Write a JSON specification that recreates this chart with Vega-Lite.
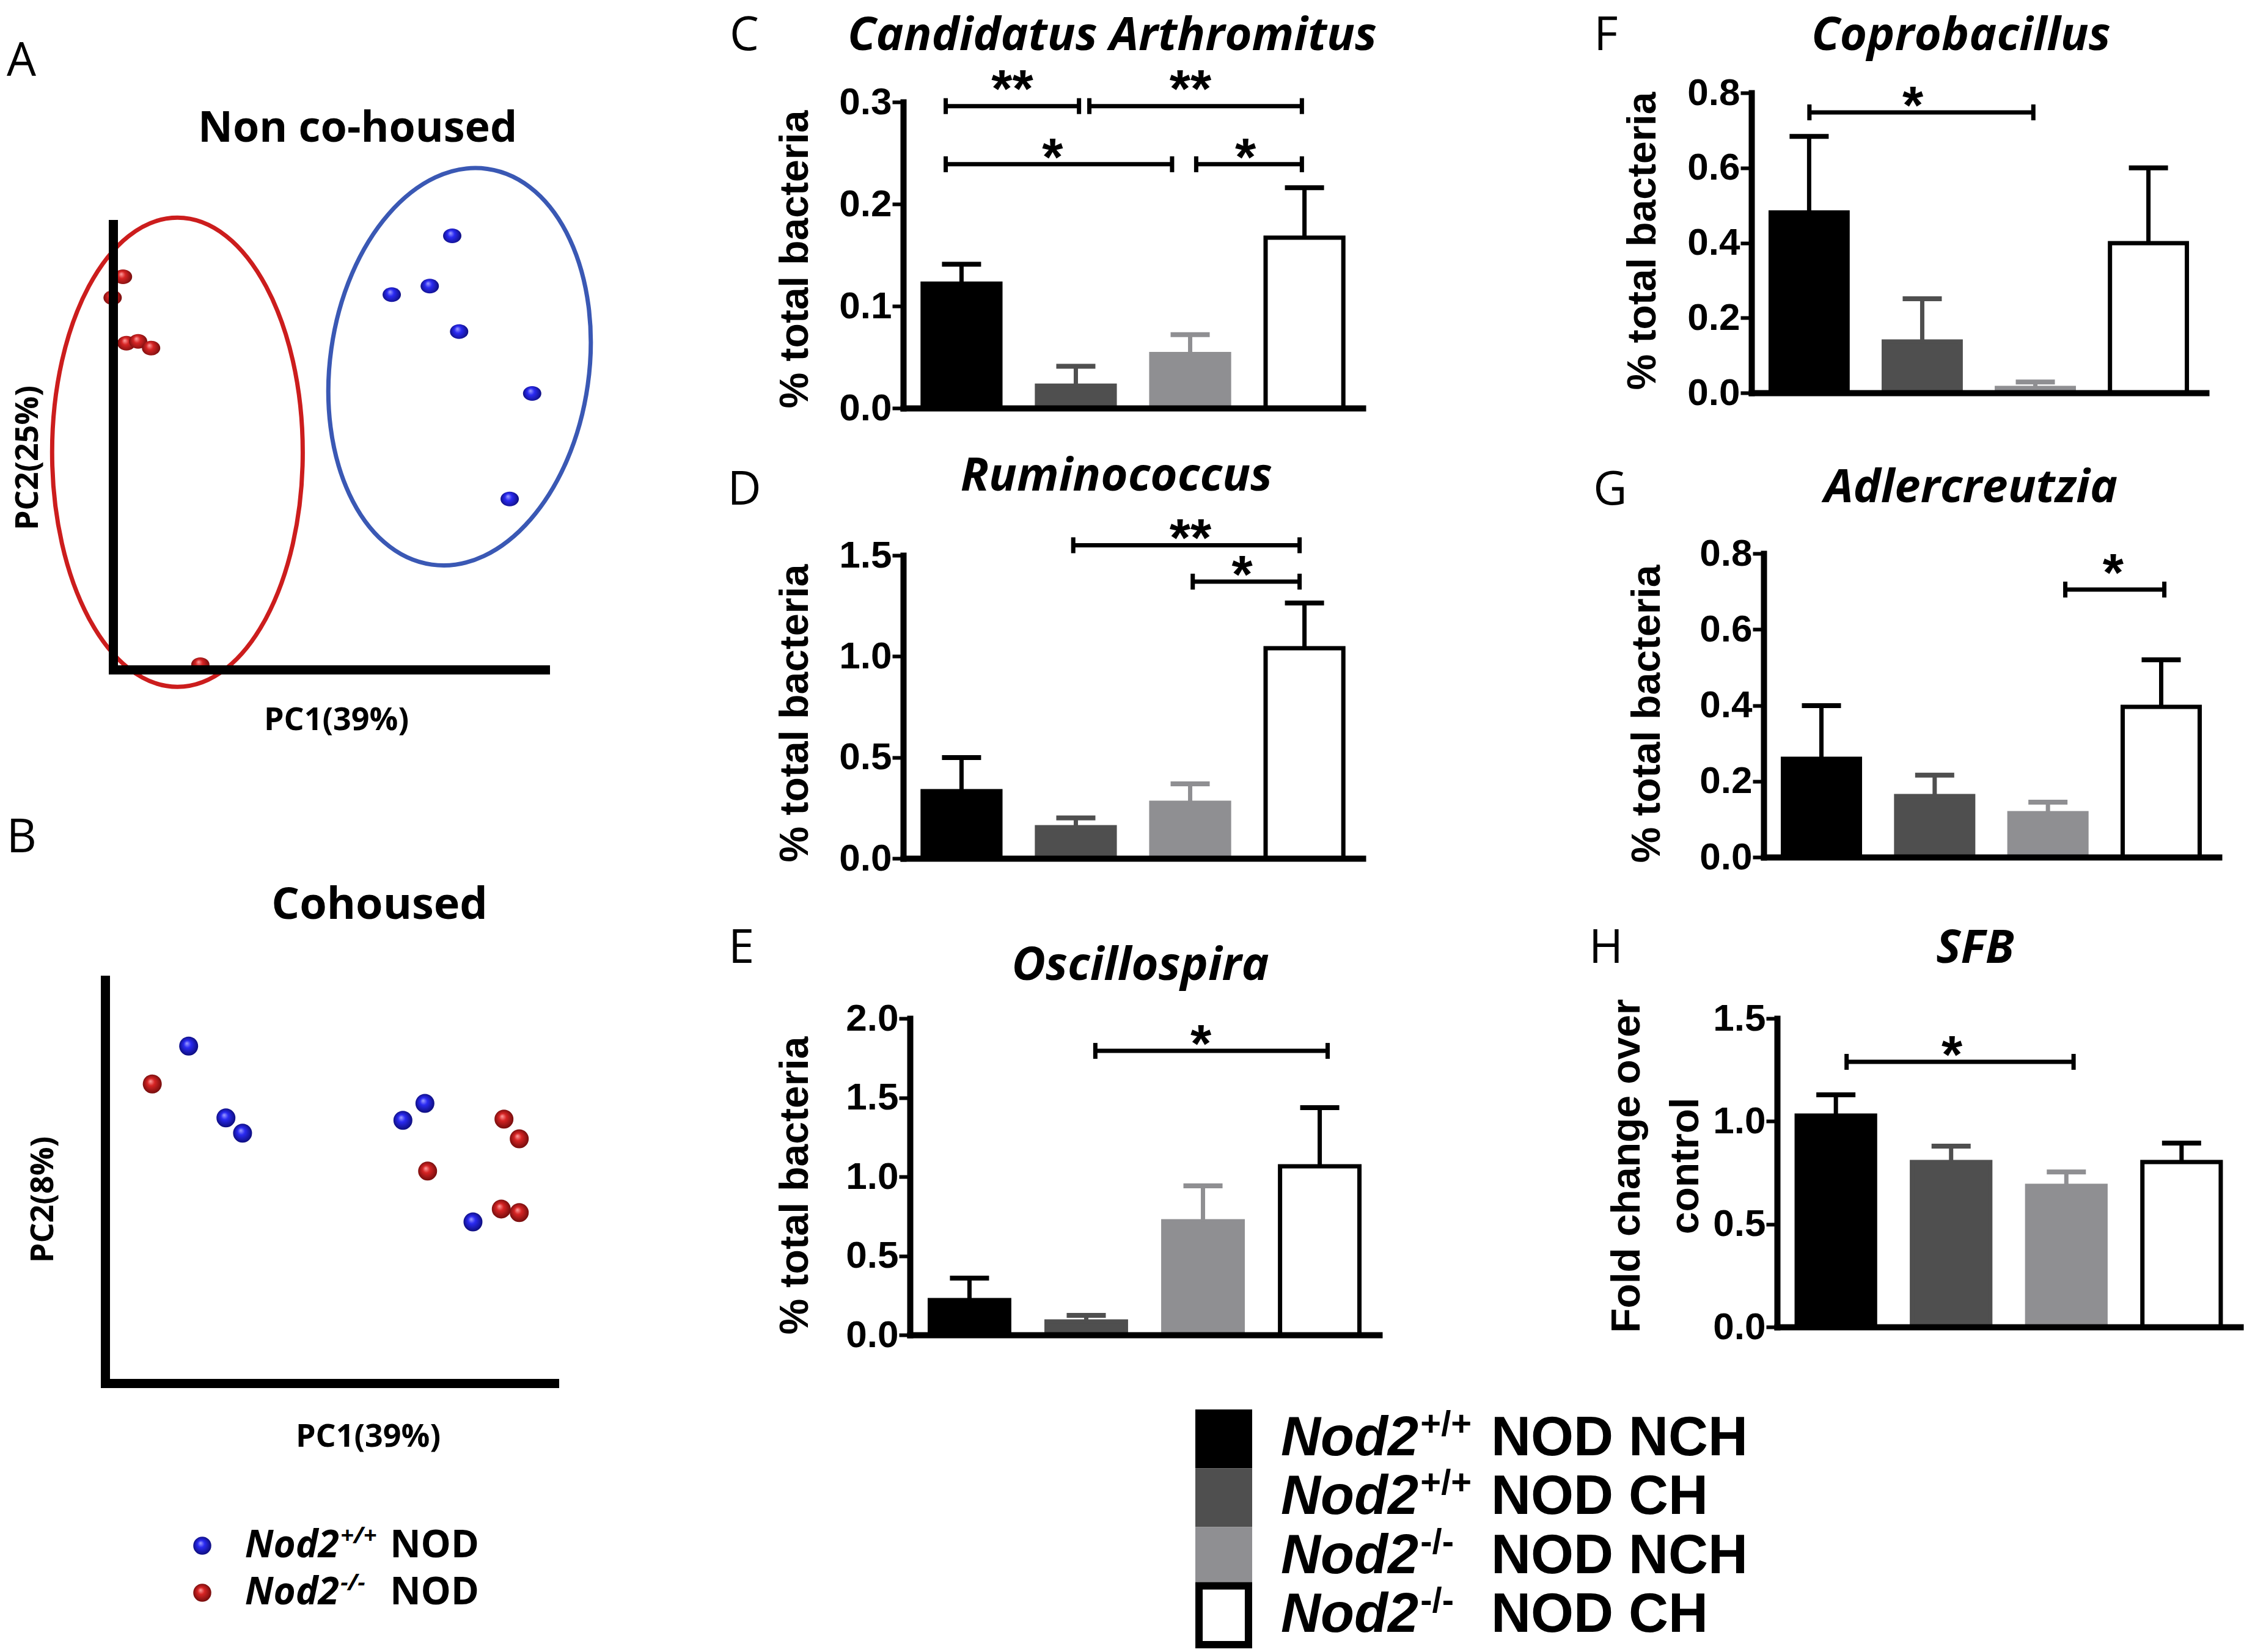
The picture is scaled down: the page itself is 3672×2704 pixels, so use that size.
{
"$schema":"https://vega.github.io/schema/vega-lite/v6.json",
"width":3672,"height":2704,
"autosize":{"type":"none"},
"padding":0,
"background":"#ffffff",
"config":{"view":{"stroke":null},"axis":{"grid":false}},
"datasets":{
"bars":[
{"panel":"C","group":"Nod2+/+ NOD NCH","mean":0.122,"upper":0.141},
{"panel":"C","group":"Nod2+/+ NOD CH","mean":0.022,"upper":0.041},
{"panel":"C","group":"Nod2-/- NOD NCH","mean":0.053,"upper":0.072},
{"panel":"C","group":"Nod2-/- NOD CH","mean":0.167,"upper":0.216},
{"panel":"D","group":"Nod2+/+ NOD NCH","mean":0.333,"upper":0.499},
{"panel":"D","group":"Nod2+/+ NOD CH","mean":0.154,"upper":0.200},
{"panel":"D","group":"Nod2-/- NOD NCH","mean":0.275,"upper":0.369},
{"panel":"D","group":"Nod2-/- NOD CH","mean":1.040,"upper":1.264},
{"panel":"E","group":"Nod2+/+ NOD NCH","mean":0.220,"upper":0.359},
{"panel":"E","group":"Nod2+/+ NOD CH","mean":0.085,"upper":0.124},
{"panel":"E","group":"Nod2-/- NOD NCH","mean":0.718,"upper":0.942},
{"panel":"E","group":"Nod2-/- NOD CH","mean":1.066,"upper":1.436},
{"panel":"F","group":"Nod2+/+ NOD NCH","mean":0.481,"upper":0.684},
{"panel":"F","group":"Nod2+/+ NOD CH","mean":0.137,"upper":0.251},
{"panel":"F","group":"Nod2-/- NOD NCH","mean":0.013,"upper":0.029},
{"panel":"F","group":"Nod2-/- NOD CH","mean":0.399,"upper":0.600},
{"panel":"G","group":"Nod2+/+ NOD NCH","mean":0.259,"upper":0.399},
{"panel":"G","group":"Nod2+/+ NOD CH","mean":0.161,"upper":0.216},
{"panel":"G","group":"Nod2-/- NOD NCH","mean":0.116,"upper":0.145},
{"panel":"G","group":"Nod2-/- NOD CH","mean":0.396,"upper":0.520},
{"panel":"H","group":"Nod2+/+ NOD NCH","mean":1.028,"upper":1.129},
{"panel":"H","group":"Nod2+/+ NOD CH","mean":0.802,"upper":0.879},
{"panel":"H","group":"Nod2-/- NOD NCH","mean":0.686,"upper":0.754},
{"panel":"H","group":"Nod2-/- NOD CH","mean":0.802,"upper":0.894}
],
"sig":[
{"panel":"C","from":0.37,"to":1.53,"y":0.296,"label":"**","sx":0.95,"sy":0.306},
{"panel":"C","from":1.62,"to":3.47,"y":0.296,"label":"**","sx":2.5,"sy":0.306},
{"panel":"C","from":0.37,"to":2.34,"y":0.239,"label":"*","sx":1.3,"sy":0.239},
{"panel":"C","from":2.55,"to":3.47,"y":0.239,"label":"*","sx":2.98,"sy":0.239},
{"panel":"D","from":1.48,"to":3.45,"y":1.55,"label":"**","sx":2.5,"sy":1.55},
{"panel":"D","from":2.52,"to":3.45,"y":1.37,"label":"*","sx":2.95,"sy":1.37},
{"panel":"E","from":1.58,"to":3.56,"y":1.795,"label":"*","sx":2.48,"sy":1.795},
{"panel":"F","from":0.51,"to":2.48,"y":0.748,"label":"*","sx":1.42,"sy":0.748},
{"panel":"G","from":2.65,"to":3.52,"y":0.705,"label":"*","sx":3.07,"sy":0.731},
{"panel":"H","from":0.6,"to":2.56,"y":1.289,"label":"*","sx":1.51,"sy":1.289}
],
"panels":[
{"panel":"A","letter":"A","title":"Non co-housed"},
{"panel":"B","letter":"B","title":"Cohoused"},
{"panel":"C","letter":"C","title":"Candidatus Arthromitus"},
{"panel":"D","letter":"D","title":"Ruminococcus"},
{"panel":"E","letter":"E","title":"Oscillospira"},
{"panel":"F","letter":"F","title":"Coprobacillus"},
{"panel":"G","letter":"G","title":"Adlercreutzia"},
{"panel":"H","letter":"H","title":"SFB"}
],
"pca":[
{"panel":"A","genotype":"Nod2-/- NOD","pc1":0.23,"pc2":8.82},
{"panel":"A","genotype":"Nod2-/- NOD","pc1":-0.01,"pc2":8.35},
{"panel":"A","genotype":"Nod2-/- NOD","pc1":0.31,"pc2":7.33},
{"panel":"A","genotype":"Nod2-/- NOD","pc1":0.58,"pc2":7.37},
{"panel":"A","genotype":"Nod2-/- NOD","pc1":0.88,"pc2":7.22},
{"panel":"A","genotype":"Nod2-/- NOD","pc1":2.02,"pc2":0.11},
{"panel":"A","genotype":"Nod2+/+ NOD","pc1":7.85,"pc2":9.74},
{"panel":"A","genotype":"Nod2+/+ NOD","pc1":6.45,"pc2":8.42},
{"panel":"A","genotype":"Nod2+/+ NOD","pc1":7.33,"pc2":8.61},
{"panel":"A","genotype":"Nod2+/+ NOD","pc1":8.01,"pc2":7.59},
{"panel":"A","genotype":"Nod2+/+ NOD","pc1":9.70,"pc2":6.20},
{"panel":"A","genotype":"Nod2+/+ NOD","pc1":9.18,"pc2":3.83},
{"panel":"B","genotype":"Nod2+/+ NOD","pc1":1.86,"pc2":8.36},
{"panel":"B","genotype":"Nod2+/+ NOD","pc1":2.69,"pc2":6.58},
{"panel":"B","genotype":"Nod2+/+ NOD","pc1":3.06,"pc2":6.20},
{"panel":"B","genotype":"Nod2+/+ NOD","pc1":6.63,"pc2":6.52},
{"panel":"B","genotype":"Nod2+/+ NOD","pc1":7.12,"pc2":6.94},
{"panel":"B","genotype":"Nod2+/+ NOD","pc1":8.19,"pc2":4.00},
{"panel":"B","genotype":"Nod2-/- NOD","pc1":1.05,"pc2":7.42},
{"panel":"B","genotype":"Nod2-/- NOD","pc1":7.18,"pc2":5.26},
{"panel":"B","genotype":"Nod2-/- NOD","pc1":8.88,"pc2":6.55},
{"panel":"B","genotype":"Nod2-/- NOD","pc1":9.22,"pc2":6.06},
{"panel":"B","genotype":"Nod2-/- NOD","pc1":8.82,"pc2":4.32},
{"panel":"B","genotype":"Nod2-/- NOD","pc1":9.22,"pc2":4.23}
],
"clusters":[
{"genotype":"Nod2-/- NOD","pc1":1.49,"pc2":4.88},
{"genotype":"Nod2+/+ NOD","pc1":8.02,"pc2":6.80}
],
"legend":[
{"group":"Nod2+/+ NOD NCH","gene":"Nod2","sup":"+/+","rest":"NOD NCH"},
{"group":"Nod2+/+ NOD CH","gene":"Nod2","sup":"+/+","rest":"NOD CH"},
{"group":"Nod2-/- NOD NCH","gene":"Nod2","sup":"-/-","rest":"NOD NCH"},
{"group":"Nod2-/- NOD CH","gene":"Nod2","sup":"-/-","rest":"NOD CH"}
],
"pcaLegend":[
{"genotype":"Nod2+/+ NOD","gene":"Nod2","sup":"+/+","rest":"NOD"},
{"genotype":"Nod2-/- NOD","gene":"Nod2","sup":"-/-","rest":"NOD"}
]
},
"layer":[
{
"layer":[
{"data":{"name":"clusters"},"transform":[{"filter":"datum.genotype === 'Nod2-/- NOD'"}],
"mark":{"type":"point","shape":"M0,-1C0.295,-1,0.534,-0.5523,0.534,0C0.534,0.5523,0.295,1,0,1C-0.295,1,-0.534,0.5523,-0.534,0C-0.534,-0.5523,-0.295,-1,0,-1Z","size":589824,"filled":false,"stroke":"#cc1d1d","strokeWidth":7,"opacity":1},
"encoding":{"x":{"field":"pc1","type":"quantitative","scale":{"domain":[0,10],"range":[185,892],"nice":false,"zero":false},"axis":{"orient":"bottom","offset":-1608,"ticks":false,"labels":false,"domainWidth":15,"domainColor":"#000000","domainCap":"square","title":"PC1(39%)","titleFont":"Open Sans","titleFontWeight":"bold","titleFontSize":52,"titleColor":"#000000","titleX":550,"titleY":82,"titleAlign":"center","titleBaseline":"middle","grid":false,"zindex":1,"minExtent":0}},
"y":{"field":"pc2","type":"quantitative","scale":{"domain":[0,10],"range":[1096,367],"nice":false,"zero":false},"axis":{"orient":"left","offset":-185,"ticks":false,"labels":false,"domainWidth":15,"domainColor":"#000000","domainCap":"square","title":"PC2(25%)","titleFont":"Open Sans","titleFontWeight":"bold","titleFontSize":52,"titleColor":"#000000","titleX":-140,"titleY":749,"titleAngle":-90,"titleAlign":"center","titleBaseline":"middle","grid":false,"zindex":1,"minExtent":0}}}},
{"data":{"name":"clusters"},"transform":[{"filter":"datum.genotype === 'Nod2+/+ NOD'"}],
"mark":{"type":"point","shape":"M0,-1C0.358,-1,0.648,-0.5523,0.648,0C0.648,0.5523,0.358,1,0,1C-0.358,1,-0.648,0.5523,-0.648,0C-0.648,-0.5523,-0.358,-1,0,-1Z","size":427716,"angle":8,"filled":false,"stroke":"#3a58b4","strokeWidth":7,"opacity":1},
"encoding":{"x":{"field":"pc1","type":"quantitative","scale":{"domain":[0,10],"range":[185,892],"nice":false,"zero":false}},
"y":{"field":"pc2","type":"quantitative","scale":{"domain":[0,10],"range":[1096,367],"nice":false,"zero":false}}}},
{"data":{"name":"pca"},"transform":[{"filter":"datum.panel === 'A' && datum.genotype === 'Nod2-/- NOD'"}],
"mark":{"type":"point","shape":"M0,-0.8C0.5523,-0.8,1,-0.4418,1,0C1,0.4418,0.5523,0.8,0,0.8C-0.5523,0.8,-1,0.4418,-1,0C-1,-0.4418,-0.5523,-0.8,0,-0.8Z","size":900,"filled":true,"opacity":1,"strokeWidth":0,"fill":{"gradient":"radial","x1":0.4,"y1":0.35,"r1":0,"x2":0.5,"y2":0.5,"r2":0.55,"stops":[{"offset":0,"color":"#ffa0a0"},{"offset":0.35,"color":"#d62424"},{"offset":1,"color":"#6a0a0a"}]}},
"encoding":{"x":{"field":"pc1","type":"quantitative","scale":{"domain":[0,10],"range":[185,892],"nice":false,"zero":false}},
"y":{"field":"pc2","type":"quantitative","scale":{"domain":[0,10],"range":[1096,367],"nice":false,"zero":false}}}},
{"data":{"name":"pca"},"transform":[{"filter":"datum.panel === 'A' && datum.genotype === 'Nod2+/+ NOD'"}],
"mark":{"type":"point","shape":"M0,-0.8C0.5523,-0.8,1,-0.4418,1,0C1,0.4418,0.5523,0.8,0,0.8C-0.5523,0.8,-1,0.4418,-1,0C-1,-0.4418,-0.5523,-0.8,0,-0.8Z","size":900,"filled":true,"opacity":1,"strokeWidth":0,"fill":{"gradient":"radial","x1":0.4,"y1":0.35,"r1":0,"x2":0.5,"y2":0.5,"r2":0.55,"stops":[{"offset":0,"color":"#a0a0ff"},{"offset":0.35,"color":"#2a2af2"},{"offset":1,"color":"#0a0a70"}]}},
"encoding":{"x":{"field":"pc1","type":"quantitative","scale":{"domain":[0,10],"range":[185,892],"nice":false,"zero":false}},
"y":{"field":"pc2","type":"quantitative","scale":{"domain":[0,10],"range":[1096,367],"nice":false,"zero":false}}}},
{"data":{"name":"panels"},"transform":[{"filter":"datum.panel === 'A'"}],
"mark":{"type":"text","font":"Open Sans","fontSize":76,"align":"center","baseline":"middle","color":"#000000"},
"encoding":{"x":{"datum":-2.12,"type":"quantitative","scale":{"domain":[0,10],"range":[185,892],"nice":false,"zero":false}},
"y":{"datum":13.65,"type":"quantitative","scale":{"domain":[0,10],"range":[1096,367],"nice":false,"zero":false}},"text":{"field":"letter"}}},
{"data":{"name":"panels"},"transform":[{"filter":"datum.panel === 'A'"}],
"mark":{"type":"text","font":"Open Sans","fontWeight":"bold","fontSize":70,"align":"center","baseline":"middle","color":"#000000"},
"encoding":{"x":{"datum":5.66,"type":"quantitative","scale":{"domain":[0,10],"range":[185,892],"nice":false,"zero":false}},
"y":{"datum":12.14,"type":"quantitative","scale":{"domain":[0,10],"range":[1096,367],"nice":false,"zero":false}},"text":{"field":"title"}}}
]
},
{
"layer":[
{"data":{"name":"pca"},"transform":[{"filter":"datum.panel === 'B' && datum.genotype === 'Nod2+/+ NOD'"}],
"mark":{"type":"point","shape":"circle","size":961,"filled":true,"opacity":1,"strokeWidth":0,"fill":{"gradient":"radial","x1":0.4,"y1":0.35,"r1":0,"x2":0.5,"y2":0.5,"r2":0.55,"stops":[{"offset":0,"color":"#a0a0ff"},{"offset":0.35,"color":"#2a2af2"},{"offset":1,"color":"#0a0a70"}]}},
"encoding":{"x":{"field":"pc1","type":"quantitative","scale":{"domain":[0,10],"range":[172,907],"nice":false,"zero":false},"axis":{"orient":"bottom","offset":-440,"ticks":false,"labels":false,"domainWidth":15,"domainColor":"#000000","domainCap":"square","title":"PC1(39%)","titleFont":"Open Sans","titleFontWeight":"bold","titleFontSize":52,"titleColor":"#000000","titleX":602,"titleY":87,"titleAlign":"center","titleBaseline":"middle","grid":false,"zindex":1,"minExtent":0}},
"y":{"field":"pc2","type":"quantitative","scale":{"domain":[0,10],"range":[2264,1604],"nice":false,"zero":false},"axis":{"orient":"left","offset":-172,"ticks":false,"labels":false,"domainWidth":15,"domainColor":"#000000","domainCap":"square","title":"PC2(8%)","titleFont":"Open Sans","titleFontWeight":"bold","titleFontSize":52,"titleColor":"#000000","titleX":-102,"titleY":1963,"titleAngle":-90,"titleAlign":"center","titleBaseline":"middle","grid":false,"zindex":1,"minExtent":0}}}},
{"data":{"name":"pca"},"transform":[{"filter":"datum.panel === 'B' && datum.genotype === 'Nod2-/- NOD'"}],
"mark":{"type":"point","shape":"circle","size":961,"filled":true,"opacity":1,"strokeWidth":0,"fill":{"gradient":"radial","x1":0.4,"y1":0.35,"r1":0,"x2":0.5,"y2":0.5,"r2":0.55,"stops":[{"offset":0,"color":"#ffa0a0"},{"offset":0.35,"color":"#d62424"},{"offset":1,"color":"#6a0a0a"}]}},
"encoding":{"x":{"field":"pc1","type":"quantitative","scale":{"domain":[0,10],"range":[172,907],"nice":false,"zero":false}},
"y":{"field":"pc2","type":"quantitative","scale":{"domain":[0,10],"range":[2264,1604],"nice":false,"zero":false}}}},
{"data":{"name":"panels"},"transform":[{"filter":"datum.panel === 'B'"}],
"mark":{"type":"text","font":"Open Sans","fontSize":76,"align":"center","baseline":"middle","color":"#000000"},
"encoding":{"x":{"datum":-1.86,"type":"quantitative","scale":{"domain":[0,10],"range":[172,907],"nice":false,"zero":false}},
"y":{"datum":13.52,"type":"quantitative","scale":{"domain":[0,10],"range":[2264,1604],"nice":false,"zero":false}},"text":{"field":"letter"}}},
{"data":{"name":"panels"},"transform":[{"filter":"datum.panel === 'B'"}],
"mark":{"type":"text","font":"Open Sans","fontWeight":"bold","fontSize":72,"align":"center","baseline":"middle","color":"#000000"},
"encoding":{"x":{"datum":6.11,"type":"quantitative","scale":{"domain":[0,10],"range":[172,907],"nice":false,"zero":false}},
"y":{"datum":11.85,"type":"quantitative","scale":{"domain":[0,10],"range":[2264,1604],"nice":false,"zero":false}},"text":{"field":"title"}}}
]
},
{
"data":{"name":"pcaLegend"},
"encoding":{"y":{"field":"genotype","type":"nominal","scale":{"type":"point","domain":["Nod2+/+ NOD","Nod2-/- NOD"],"range":[2530,2607],"padding":0},"axis":null}},
"layer":[
{"transform":[{"filter":"datum.genotype === 'Nod2+/+ NOD'"}],
"mark":{"type":"point","shape":"circle","size":870,"filled":true,"opacity":1,"strokeWidth":0,"fill":{"gradient":"radial","x1":0.4,"y1":0.35,"r1":0,"x2":0.5,"y2":0.5,"r2":0.55,"stops":[{"offset":0,"color":"#a0a0ff"},{"offset":0.35,"color":"#2a2af2"},{"offset":1,"color":"#0a0a70"}]}},
"encoding":{"x":{"datum":0,"type":"quantitative","scale":{"domain":[0,10],"range":[331,786]},"axis":null}}},
{"transform":[{"filter":"datum.genotype === 'Nod2-/- NOD'"}],
"mark":{"type":"point","shape":"circle","size":870,"filled":true,"opacity":1,"strokeWidth":0,"fill":{"gradient":"radial","x1":0.4,"y1":0.35,"r1":0,"x2":0.5,"y2":0.5,"r2":0.55,"stops":[{"offset":0,"color":"#ffa0a0"},{"offset":0.35,"color":"#d62424"},{"offset":1,"color":"#6a0a0a"}]}},
"encoding":{"x":{"datum":0,"type":"quantitative","scale":{"domain":[0,10],"range":[331,786]},"axis":null}}},
{"mark":{"type":"text","font":"Open Sans","fontStyle":"italic","fontWeight":"bold","fontSize":62,"align":"right","baseline":"middle","color":"#000000"},
"encoding":{"x":{"datum":4.92,"type":"quantitative","scale":{"domain":[0,10],"range":[331,786]},"axis":null},"text":{"field":"gene"}}},
{"mark":{"type":"text","font":"Open Sans","fontStyle":"italic","fontWeight":"bold","fontSize":38,"align":"left","baseline":"middle","dy":-15,"color":"#000000"},
"encoding":{"x":{"datum":4.97,"type":"quantitative","scale":{"domain":[0,10],"range":[331,786]},"axis":null},"text":{"field":"sup"}}},
{"mark":{"type":"text","font":"Open Sans","fontWeight":"bold","fontSize":62,"align":"left","baseline":"middle","color":"#000000"},
"encoding":{"x":{"datum":6.75,"type":"quantitative","scale":{"domain":[0,10],"range":[331,786]},"axis":null},"text":{"field":"rest"}}}
]
},
{
"layer":[
{"data":{"name":"bars"},"transform":[{"filter":"datum.panel === 'C'"}],
"encoding":{"x":{"field":"group","type":"nominal","sort":null,"scale":{"domain":["Nod2+/+ NOD NCH","Nod2+/+ NOD CH","Nod2-/- NOD NCH","Nod2-/- NOD CH"],"range":[1478,2230],"paddingInner":0.32,"paddingOuter":0.17},"axis":{"orient":"bottom","offset":-2036,"ticks":false,"labels":false,"title":null,"domainWidth":10,"domainColor":"#000000","domainCap":"square","grid":false,"zindex":1}}},
"layer":[
{"mark":{"type":"bar","strokeWidth":7},"encoding":{"y":{"field":"mean","type":"quantitative","scale":{"domain":[0,0.3],"range":[668,167],"nice":false},"axis":{"orient":"left","offset":-1478,"values":[0,0.1,0.2,0.3],"format":".1f","domainWidth":10,"domainColor":"#000000","domainCap":"square","tickSize":18,"tickWidth":6,"tickColor":"#000000","labelFont":"Liberation Sans","labelFontWeight":"bold","labelFontSize":62,"labelColor":"#000000","labelPadding":1,"labelOverlap":false,"labelFlush":false,"title":"% total bacteria","titleFont":"Liberation Sans","titleFontWeight":"bold","titleFontSize":66,"titleColor":"#000000","titleAngle":-90,"titleAlign":"center","titleBaseline":"middle","titleX":-177,"titleY":424,"grid":false,"zindex":1}},"y2":{"datum":0},
"fill":{"field":"group","type":"nominal","scale":{"domain":["Nod2+/+ NOD NCH","Nod2+/+ NOD CH","Nod2-/- NOD NCH","Nod2-/- NOD CH"],"range":["#000000","#4f4f4f","#8f8f92","#ffffff"]},"legend":null},
"stroke":{"field":"group","type":"nominal","scale":{"domain":["Nod2+/+ NOD NCH","Nod2+/+ NOD CH","Nod2-/- NOD NCH","Nod2-/- NOD CH"],"range":["#000000","#4f4f4f","#8f8f92","#000000"]},"legend":null}}},
{"mark":{"type":"rule","strokeWidth":7},"encoding":{"y":{"field":"mean","type":"quantitative","scale":{"domain":[0,0.3],"range":[668,167],"nice":false}},"y2":{"field":"upper"},
"stroke":{"field":"group","type":"nominal","scale":{"domain":["Nod2+/+ NOD NCH","Nod2+/+ NOD CH","Nod2-/- NOD NCH","Nod2-/- NOD CH"],"range":["#000000","#4f4f4f","#8f8f92","#000000"]},"legend":null}}},
{"mark":{"type":"tick","thickness":8,"size":64,"opacity":1},"encoding":{"y":{"field":"upper","type":"quantitative","scale":{"domain":[0,0.3],"range":[668,167],"nice":false}},
"color":{"field":"group","type":"nominal","scale":{"domain":["Nod2+/+ NOD NCH","Nod2+/+ NOD CH","Nod2-/- NOD NCH","Nod2-/- NOD CH"],"range":["#000000","#4f4f4f","#8f8f92","#000000"]},"legend":null}}}
]},
{"layer":[
{"data":{"name":"sig"},"transform":[{"filter":"datum.panel === 'C'"}],"mark":{"type":"rule","strokeWidth":7,"color":"#000000"},
"encoding":{"x":{"field":"from","type":"quantitative","scale":{"domain":[0,4],"range":[1478,2230]},"axis":null},"x2":{"field":"to"},"y":{"field":"y","type":"quantitative","scale":{"domain":[0,0.3],"range":[668,167],"nice":false}}}},
{"data":{"name":"sig"},"transform":[{"filter":"datum.panel === 'C'"}],"mark":{"type":"rule","strokeWidth":7,"color":"#000000","yOffset":-13,"y2Offset":13},
"encoding":{"x":{"field":"from","type":"quantitative","scale":{"domain":[0,4],"range":[1478,2230]},"axis":null},"y":{"field":"y","type":"quantitative","scale":{"domain":[0,0.3],"range":[668,167],"nice":false}},"y2":{"field":"y"}}},
{"data":{"name":"sig"},"transform":[{"filter":"datum.panel === 'C'"}],"mark":{"type":"rule","strokeWidth":7,"color":"#000000","yOffset":-13,"y2Offset":13},
"encoding":{"x":{"field":"to","type":"quantitative","scale":{"domain":[0,4],"range":[1478,2230]},"axis":null},"y":{"field":"y","type":"quantitative","scale":{"domain":[0,0.3],"range":[668,167],"nice":false}},"y2":{"field":"y"}}},
{"data":{"name":"sig"},"transform":[{"filter":"datum.panel === 'C'"}],"mark":{"type":"text","font":"Liberation Sans","fontWeight":"bold","fontSize":88,"align":"center","baseline":"alphabetic","dy":18,"color":"#000000"},
"encoding":{"x":{"field":"sx","type":"quantitative","scale":{"domain":[0,4],"range":[1478,2230]},"axis":null},"y":{"field":"sy","type":"quantitative","scale":{"domain":[0,0.3],"range":[668,167],"nice":false}},"text":{"field":"label"}}},
{"data":{"name":"panels"},"transform":[{"filter":"datum.panel === 'C'"}],"mark":{"type":"text","font":"Open Sans","fontStyle":"italic","fontWeight":"bold","fontSize":76,"align":"center","baseline":"middle","color":"#000000"},
"encoding":{"x":{"datum":1.819,"type":"quantitative","scale":{"domain":[0,4],"range":[1478,2230]},"axis":null},"y":{"datum":0.3647,"type":"quantitative","scale":{"domain":[0,0.3],"range":[668,167],"nice":false}},"text":{"field":"title"}}},
{"data":{"name":"panels"},"transform":[{"filter":"datum.panel === 'C'"}],"mark":{"type":"text","font":"Open Sans","fontSize":76,"align":"center","baseline":"middle","color":"#000000"},
"encoding":{"x":{"datum":-1.383,"type":"quantitative","scale":{"domain":[0,4],"range":[1478,2230]},"axis":null},"y":{"datum":0.3647,"type":"quantitative","scale":{"domain":[0,0.3],"range":[668,167],"nice":false}},"text":{"field":"letter"}}}
]}
],
"resolve":{"scale":{"x":"independent"}}
},
{
"layer":[
{"data":{"name":"bars"},"transform":[{"filter":"datum.panel === 'D'"}],
"encoding":{"x":{"field":"group","type":"nominal","sort":null,"scale":{"domain":["Nod2+/+ NOD NCH","Nod2+/+ NOD CH","Nod2-/- NOD NCH","Nod2-/- NOD CH"],"range":[1478,2230],"paddingInner":0.32,"paddingOuter":0.17},"axis":{"orient":"bottom","offset":-1299,"ticks":false,"labels":false,"title":null,"domainWidth":10,"domainColor":"#000000","domainCap":"square","grid":false,"zindex":1}}},
"layer":[
{"mark":{"type":"bar","strokeWidth":7},"encoding":{"y":{"field":"mean","type":"quantitative","scale":{"domain":[0,1.5],"range":[1405,909],"nice":false},"axis":{"orient":"left","offset":-1478,"values":[0,0.5,1,1.5],"format":".1f","domainWidth":10,"domainColor":"#000000","domainCap":"square","tickSize":18,"tickWidth":6,"tickColor":"#000000","labelFont":"Liberation Sans","labelFontWeight":"bold","labelFontSize":62,"labelColor":"#000000","labelPadding":1,"labelOverlap":false,"labelFlush":false,"title":"% total bacteria","titleFont":"Liberation Sans","titleFontWeight":"bold","titleFontSize":66,"titleColor":"#000000","titleAngle":-90,"titleAlign":"center","titleBaseline":"middle","titleX":-177,"titleY":1167,"grid":false,"zindex":1}},"y2":{"datum":0},
"fill":{"field":"group","type":"nominal","scale":{"domain":["Nod2+/+ NOD NCH","Nod2+/+ NOD CH","Nod2-/- NOD NCH","Nod2-/- NOD CH"],"range":["#000000","#4f4f4f","#8f8f92","#ffffff"]},"legend":null},
"stroke":{"field":"group","type":"nominal","scale":{"domain":["Nod2+/+ NOD NCH","Nod2+/+ NOD CH","Nod2-/- NOD NCH","Nod2-/- NOD CH"],"range":["#000000","#4f4f4f","#8f8f92","#000000"]},"legend":null}}},
{"mark":{"type":"rule","strokeWidth":7},"encoding":{"y":{"field":"mean","type":"quantitative","scale":{"domain":[0,1.5],"range":[1405,909],"nice":false}},"y2":{"field":"upper"},
"stroke":{"field":"group","type":"nominal","scale":{"domain":["Nod2+/+ NOD NCH","Nod2+/+ NOD CH","Nod2-/- NOD NCH","Nod2-/- NOD CH"],"range":["#000000","#4f4f4f","#8f8f92","#000000"]},"legend":null}}},
{"mark":{"type":"tick","thickness":8,"size":64,"opacity":1},"encoding":{"y":{"field":"upper","type":"quantitative","scale":{"domain":[0,1.5],"range":[1405,909],"nice":false}},
"color":{"field":"group","type":"nominal","scale":{"domain":["Nod2+/+ NOD NCH","Nod2+/+ NOD CH","Nod2-/- NOD NCH","Nod2-/- NOD CH"],"range":["#000000","#4f4f4f","#8f8f92","#000000"]},"legend":null}}}
]},
{"layer":[
{"data":{"name":"sig"},"transform":[{"filter":"datum.panel === 'D'"}],"mark":{"type":"rule","strokeWidth":7,"color":"#000000"},
"encoding":{"x":{"field":"from","type":"quantitative","scale":{"domain":[0,4],"range":[1478,2230]},"axis":null},"x2":{"field":"to"},"y":{"field":"y","type":"quantitative","scale":{"domain":[0,1.5],"range":[1405,909],"nice":false}}}},
{"data":{"name":"sig"},"transform":[{"filter":"datum.panel === 'D'"}],"mark":{"type":"rule","strokeWidth":7,"color":"#000000","yOffset":-13,"y2Offset":13},
"encoding":{"x":{"field":"from","type":"quantitative","scale":{"domain":[0,4],"range":[1478,2230]},"axis":null},"y":{"field":"y","type":"quantitative","scale":{"domain":[0,1.5],"range":[1405,909],"nice":false}},"y2":{"field":"y"}}},
{"data":{"name":"sig"},"transform":[{"filter":"datum.panel === 'D'"}],"mark":{"type":"rule","strokeWidth":7,"color":"#000000","yOffset":-13,"y2Offset":13},
"encoding":{"x":{"field":"to","type":"quantitative","scale":{"domain":[0,4],"range":[1478,2230]},"axis":null},"y":{"field":"y","type":"quantitative","scale":{"domain":[0,1.5],"range":[1405,909],"nice":false}},"y2":{"field":"y"}}},
{"data":{"name":"sig"},"transform":[{"filter":"datum.panel === 'D'"}],"mark":{"type":"text","font":"Liberation Sans","fontWeight":"bold","fontSize":88,"align":"center","baseline":"alphabetic","dy":18,"color":"#000000"},
"encoding":{"x":{"field":"sx","type":"quantitative","scale":{"domain":[0,4],"range":[1478,2230]},"axis":null},"y":{"field":"sy","type":"quantitative","scale":{"domain":[0,1.5],"range":[1405,909],"nice":false}},"text":{"field":"label"}}},
{"data":{"name":"panels"},"transform":[{"filter":"datum.panel === 'D'"}],"mark":{"type":"text","font":"Open Sans","fontStyle":"italic","fontWeight":"bold","fontSize":76,"align":"center","baseline":"middle","color":"#000000"},
"encoding":{"x":{"datum":1.856,"type":"quantitative","scale":{"domain":[0,4],"range":[1478,2230]},"axis":null},"y":{"datum":1.89,"type":"quantitative","scale":{"domain":[0,1.5],"range":[1405,909],"nice":false}},"text":{"field":"title"}}},
{"data":{"name":"panels"},"transform":[{"filter":"datum.panel === 'D'"}],"mark":{"type":"text","font":"Open Sans","fontSize":76,"align":"center","baseline":"middle","color":"#000000"},
"encoding":{"x":{"datum":-1.383,"type":"quantitative","scale":{"domain":[0,4],"range":[1478,2230]},"axis":null},"y":{"datum":1.821,"type":"quantitative","scale":{"domain":[0,1.5],"range":[1405,909],"nice":false}},"text":{"field":"letter"}}}
]}
],
"resolve":{"scale":{"x":"independent"}}
},
{
"layer":[
{"data":{"name":"bars"},"transform":[{"filter":"datum.panel === 'E'"}],
"encoding":{"x":{"field":"group","type":"nominal","sort":null,"scale":{"domain":["Nod2+/+ NOD NCH","Nod2+/+ NOD CH","Nod2-/- NOD NCH","Nod2-/- NOD CH"],"range":[1489,2257],"paddingInner":0.32,"paddingOuter":0.17},"axis":{"orient":"bottom","offset":-519,"ticks":false,"labels":false,"title":null,"domainWidth":10,"domainColor":"#000000","domainCap":"square","grid":false,"zindex":1}}},
"layer":[
{"mark":{"type":"bar","strokeWidth":7},"encoding":{"y":{"field":"mean","type":"quantitative","scale":{"domain":[0,2],"range":[2185,1667],"nice":false},"axis":{"orient":"left","offset":-1489,"values":[0,0.5,1,1.5,2],"format":".1f","domainWidth":10,"domainColor":"#000000","domainCap":"square","tickSize":18,"tickWidth":6,"tickColor":"#000000","labelFont":"Liberation Sans","labelFontWeight":"bold","labelFontSize":62,"labelColor":"#000000","labelPadding":1,"labelOverlap":false,"labelFlush":false,"title":"% total bacteria","titleFont":"Liberation Sans","titleFontWeight":"bold","titleFontSize":66,"titleColor":"#000000","titleAngle":-90,"titleAlign":"center","titleBaseline":"middle","titleX":-188,"titleY":1940,"grid":false,"zindex":1}},"y2":{"datum":0},
"fill":{"field":"group","type":"nominal","scale":{"domain":["Nod2+/+ NOD NCH","Nod2+/+ NOD CH","Nod2-/- NOD NCH","Nod2-/- NOD CH"],"range":["#000000","#4f4f4f","#8f8f92","#ffffff"]},"legend":null},
"stroke":{"field":"group","type":"nominal","scale":{"domain":["Nod2+/+ NOD NCH","Nod2+/+ NOD CH","Nod2-/- NOD NCH","Nod2-/- NOD CH"],"range":["#000000","#4f4f4f","#8f8f92","#000000"]},"legend":null}}},
{"mark":{"type":"rule","strokeWidth":7},"encoding":{"y":{"field":"mean","type":"quantitative","scale":{"domain":[0,2],"range":[2185,1667],"nice":false}},"y2":{"field":"upper"},
"stroke":{"field":"group","type":"nominal","scale":{"domain":["Nod2+/+ NOD NCH","Nod2+/+ NOD CH","Nod2-/- NOD NCH","Nod2-/- NOD CH"],"range":["#000000","#4f4f4f","#8f8f92","#000000"]},"legend":null}}},
{"mark":{"type":"tick","thickness":8,"size":64,"opacity":1},"encoding":{"y":{"field":"upper","type":"quantitative","scale":{"domain":[0,2],"range":[2185,1667],"nice":false}},
"color":{"field":"group","type":"nominal","scale":{"domain":["Nod2+/+ NOD NCH","Nod2+/+ NOD CH","Nod2-/- NOD NCH","Nod2-/- NOD CH"],"range":["#000000","#4f4f4f","#8f8f92","#000000"]},"legend":null}}}
]},
{"layer":[
{"data":{"name":"sig"},"transform":[{"filter":"datum.panel === 'E'"}],"mark":{"type":"rule","strokeWidth":7,"color":"#000000"},
"encoding":{"x":{"field":"from","type":"quantitative","scale":{"domain":[0,4],"range":[1489,2257]},"axis":null},"x2":{"field":"to"},"y":{"field":"y","type":"quantitative","scale":{"domain":[0,2],"range":[2185,1667],"nice":false}}}},
{"data":{"name":"sig"},"transform":[{"filter":"datum.panel === 'E'"}],"mark":{"type":"rule","strokeWidth":7,"color":"#000000","yOffset":-13,"y2Offset":13},
"encoding":{"x":{"field":"from","type":"quantitative","scale":{"domain":[0,4],"range":[1489,2257]},"axis":null},"y":{"field":"y","type":"quantitative","scale":{"domain":[0,2],"range":[2185,1667],"nice":false}},"y2":{"field":"y"}}},
{"data":{"name":"sig"},"transform":[{"filter":"datum.panel === 'E'"}],"mark":{"type":"rule","strokeWidth":7,"color":"#000000","yOffset":-13,"y2Offset":13},
"encoding":{"x":{"field":"to","type":"quantitative","scale":{"domain":[0,4],"range":[1489,2257]},"axis":null},"y":{"field":"y","type":"quantitative","scale":{"domain":[0,2],"range":[2185,1667],"nice":false}},"y2":{"field":"y"}}},
{"data":{"name":"sig"},"transform":[{"filter":"datum.panel === 'E'"}],"mark":{"type":"text","font":"Liberation Sans","fontWeight":"bold","fontSize":88,"align":"center","baseline":"alphabetic","dy":18,"color":"#000000"},
"encoding":{"x":{"field":"sx","type":"quantitative","scale":{"domain":[0,4],"range":[1489,2257]},"axis":null},"y":{"field":"sy","type":"quantitative","scale":{"domain":[0,2],"range":[2185,1667],"nice":false}},"text":{"field":"label"}}},
{"data":{"name":"panels"},"transform":[{"filter":"datum.panel === 'E'"}],"mark":{"type":"text","font":"Open Sans","fontStyle":"italic","fontWeight":"bold","fontSize":76,"align":"center","baseline":"middle","color":"#000000"},
"encoding":{"x":{"datum":1.964,"type":"quantitative","scale":{"domain":[0,4],"range":[1489,2257]},"axis":null},"y":{"datum":2.332,"type":"quantitative","scale":{"domain":[0,2],"range":[2185,1667],"nice":false}},"text":{"field":"title"}}},
{"data":{"name":"panels"},"transform":[{"filter":"datum.panel === 'E'"}],"mark":{"type":"text","font":"Open Sans","fontSize":76,"align":"center","baseline":"middle","color":"#000000"},
"encoding":{"x":{"datum":-1.4375,"type":"quantitative","scale":{"domain":[0,4],"range":[1489,2257]},"axis":null},"y":{"datum":2.44,"type":"quantitative","scale":{"domain":[0,2],"range":[2185,1667],"nice":false}},"text":{"field":"letter"}}}
]}
],
"resolve":{"scale":{"x":"independent"}}
},
{
"layer":[
{"data":{"name":"bars"},"transform":[{"filter":"datum.panel === 'F'"}],
"encoding":{"x":{"field":"group","type":"nominal","sort":null,"scale":{"domain":["Nod2+/+ NOD NCH","Nod2+/+ NOD CH","Nod2-/- NOD NCH","Nod2-/- NOD CH"],"range":[2866,3610],"paddingInner":0.32,"paddingOuter":0.17},"axis":{"orient":"bottom","offset":-2061,"ticks":false,"labels":false,"title":null,"domainWidth":10,"domainColor":"#000000","domainCap":"square","grid":false,"zindex":1}}},
"layer":[
{"mark":{"type":"bar","strokeWidth":7},"encoding":{"y":{"field":"mean","type":"quantitative","scale":{"domain":[0,0.8],"range":[643,152],"nice":false},"axis":{"orient":"left","offset":-2866,"values":[0,0.2,0.4,0.6,0.8],"format":".1f","domainWidth":10,"domainColor":"#000000","domainCap":"square","tickSize":18,"tickWidth":6,"tickColor":"#000000","labelFont":"Liberation Sans","labelFontWeight":"bold","labelFontSize":62,"labelColor":"#000000","labelPadding":1,"labelOverlap":false,"labelFlush":false,"title":"% total bacteria","titleFont":"Liberation Sans","titleFontWeight":"bold","titleFontSize":66,"titleColor":"#000000","titleAngle":-90,"titleAlign":"center","titleBaseline":"middle","titleX":-178,"titleY":394,"grid":false,"zindex":1}},"y2":{"datum":0},
"fill":{"field":"group","type":"nominal","scale":{"domain":["Nod2+/+ NOD NCH","Nod2+/+ NOD CH","Nod2-/- NOD NCH","Nod2-/- NOD CH"],"range":["#000000","#4f4f4f","#8f8f92","#ffffff"]},"legend":null},
"stroke":{"field":"group","type":"nominal","scale":{"domain":["Nod2+/+ NOD NCH","Nod2+/+ NOD CH","Nod2-/- NOD NCH","Nod2-/- NOD CH"],"range":["#000000","#4f4f4f","#8f8f92","#000000"]},"legend":null}}},
{"mark":{"type":"rule","strokeWidth":7},"encoding":{"y":{"field":"mean","type":"quantitative","scale":{"domain":[0,0.8],"range":[643,152],"nice":false}},"y2":{"field":"upper"},
"stroke":{"field":"group","type":"nominal","scale":{"domain":["Nod2+/+ NOD NCH","Nod2+/+ NOD CH","Nod2-/- NOD NCH","Nod2-/- NOD CH"],"range":["#000000","#4f4f4f","#8f8f92","#000000"]},"legend":null}}},
{"mark":{"type":"tick","thickness":8,"size":64,"opacity":1},"encoding":{"y":{"field":"upper","type":"quantitative","scale":{"domain":[0,0.8],"range":[643,152],"nice":false}},
"color":{"field":"group","type":"nominal","scale":{"domain":["Nod2+/+ NOD NCH","Nod2+/+ NOD CH","Nod2-/- NOD NCH","Nod2-/- NOD CH"],"range":["#000000","#4f4f4f","#8f8f92","#000000"]},"legend":null}}}
]},
{"layer":[
{"data":{"name":"sig"},"transform":[{"filter":"datum.panel === 'F'"}],"mark":{"type":"rule","strokeWidth":7,"color":"#000000"},
"encoding":{"x":{"field":"from","type":"quantitative","scale":{"domain":[0,4],"range":[2866,3610]},"axis":null},"x2":{"field":"to"},"y":{"field":"y","type":"quantitative","scale":{"domain":[0,0.8],"range":[643,152],"nice":false}}}},
{"data":{"name":"sig"},"transform":[{"filter":"datum.panel === 'F'"}],"mark":{"type":"rule","strokeWidth":7,"color":"#000000","yOffset":-13,"y2Offset":13},
"encoding":{"x":{"field":"from","type":"quantitative","scale":{"domain":[0,4],"range":[2866,3610]},"axis":null},"y":{"field":"y","type":"quantitative","scale":{"domain":[0,0.8],"range":[643,152],"nice":false}},"y2":{"field":"y"}}},
{"data":{"name":"sig"},"transform":[{"filter":"datum.panel === 'F'"}],"mark":{"type":"rule","strokeWidth":7,"color":"#000000","yOffset":-13,"y2Offset":13},
"encoding":{"x":{"field":"to","type":"quantitative","scale":{"domain":[0,4],"range":[2866,3610]},"axis":null},"y":{"field":"y","type":"quantitative","scale":{"domain":[0,0.8],"range":[643,152],"nice":false}},"y2":{"field":"y"}}},
{"data":{"name":"sig"},"transform":[{"filter":"datum.panel === 'F'"}],"mark":{"type":"text","font":"Liberation Sans","fontWeight":"bold","fontSize":88,"align":"center","baseline":"alphabetic","dy":18,"color":"#000000"},
"encoding":{"x":{"field":"sx","type":"quantitative","scale":{"domain":[0,4],"range":[2866,3610]},"axis":null},"y":{"field":"sy","type":"quantitative","scale":{"domain":[0,0.8],"range":[643,152],"nice":false}},"text":{"field":"label"}}},
{"data":{"name":"panels"},"transform":[{"filter":"datum.panel === 'F'"}],"mark":{"type":"text","font":"Open Sans","fontStyle":"italic","fontWeight":"bold","fontSize":76,"align":"center","baseline":"middle","color":"#000000"},
"encoding":{"x":{"datum":1.844,"type":"quantitative","scale":{"domain":[0,4],"range":[2866,3610]},"axis":null},"y":{"datum":0.9515,"type":"quantitative","scale":{"domain":[0,0.8],"range":[643,152],"nice":false}},"text":{"field":"title"}}},
{"data":{"name":"panels"},"transform":[{"filter":"datum.panel === 'F'"}],"mark":{"type":"text","font":"Open Sans","fontSize":76,"align":"center","baseline":"middle","color":"#000000"},
"encoding":{"x":{"datum":-1.28,"type":"quantitative","scale":{"domain":[0,4],"range":[2866,3610]},"axis":null},"y":{"datum":0.9515,"type":"quantitative","scale":{"domain":[0,0.8],"range":[643,152],"nice":false}},"text":{"field":"letter"}}}
]}
],
"resolve":{"scale":{"x":"independent"}}
},
{
"layer":[
{"data":{"name":"bars"},"transform":[{"filter":"datum.panel === 'G'"}],
"encoding":{"x":{"field":"group","type":"nominal","sort":null,"scale":{"domain":["Nod2+/+ NOD NCH","Nod2+/+ NOD CH","Nod2-/- NOD NCH","Nod2-/- NOD CH"],"range":[2886,3631],"paddingInner":0.32,"paddingOuter":0.17},"axis":{"orient":"bottom","offset":-1301,"ticks":false,"labels":false,"title":null,"domainWidth":10,"domainColor":"#000000","domainCap":"square","grid":false,"zindex":1}}},
"layer":[
{"mark":{"type":"bar","strokeWidth":7},"encoding":{"y":{"field":"mean","type":"quantitative","scale":{"domain":[0,0.8],"range":[1403,906],"nice":false},"axis":{"orient":"left","offset":-2886,"values":[0,0.2,0.4,0.6,0.8],"format":".1f","domainWidth":10,"domainColor":"#000000","domainCap":"square","tickSize":18,"tickWidth":6,"tickColor":"#000000","labelFont":"Liberation Sans","labelFontWeight":"bold","labelFontSize":62,"labelColor":"#000000","labelPadding":1,"labelOverlap":false,"labelFlush":false,"title":"% total bacteria","titleFont":"Liberation Sans","titleFontWeight":"bold","titleFontSize":66,"titleColor":"#000000","titleAngle":-90,"titleAlign":"center","titleBaseline":"middle","titleX":-191,"titleY":1168,"grid":false,"zindex":1}},"y2":{"datum":0},
"fill":{"field":"group","type":"nominal","scale":{"domain":["Nod2+/+ NOD NCH","Nod2+/+ NOD CH","Nod2-/- NOD NCH","Nod2-/- NOD CH"],"range":["#000000","#4f4f4f","#8f8f92","#ffffff"]},"legend":null},
"stroke":{"field":"group","type":"nominal","scale":{"domain":["Nod2+/+ NOD NCH","Nod2+/+ NOD CH","Nod2-/- NOD NCH","Nod2-/- NOD CH"],"range":["#000000","#4f4f4f","#8f8f92","#000000"]},"legend":null}}},
{"mark":{"type":"rule","strokeWidth":7},"encoding":{"y":{"field":"mean","type":"quantitative","scale":{"domain":[0,0.8],"range":[1403,906],"nice":false}},"y2":{"field":"upper"},
"stroke":{"field":"group","type":"nominal","scale":{"domain":["Nod2+/+ NOD NCH","Nod2+/+ NOD CH","Nod2-/- NOD NCH","Nod2-/- NOD CH"],"range":["#000000","#4f4f4f","#8f8f92","#000000"]},"legend":null}}},
{"mark":{"type":"tick","thickness":8,"size":64,"opacity":1},"encoding":{"y":{"field":"upper","type":"quantitative","scale":{"domain":[0,0.8],"range":[1403,906],"nice":false}},
"color":{"field":"group","type":"nominal","scale":{"domain":["Nod2+/+ NOD NCH","Nod2+/+ NOD CH","Nod2-/- NOD NCH","Nod2-/- NOD CH"],"range":["#000000","#4f4f4f","#8f8f92","#000000"]},"legend":null}}}
]},
{"layer":[
{"data":{"name":"sig"},"transform":[{"filter":"datum.panel === 'G'"}],"mark":{"type":"rule","strokeWidth":7,"color":"#000000"},
"encoding":{"x":{"field":"from","type":"quantitative","scale":{"domain":[0,4],"range":[2886,3631]},"axis":null},"x2":{"field":"to"},"y":{"field":"y","type":"quantitative","scale":{"domain":[0,0.8],"range":[1403,906],"nice":false}}}},
{"data":{"name":"sig"},"transform":[{"filter":"datum.panel === 'G'"}],"mark":{"type":"rule","strokeWidth":7,"color":"#000000","yOffset":-13,"y2Offset":13},
"encoding":{"x":{"field":"from","type":"quantitative","scale":{"domain":[0,4],"range":[2886,3631]},"axis":null},"y":{"field":"y","type":"quantitative","scale":{"domain":[0,0.8],"range":[1403,906],"nice":false}},"y2":{"field":"y"}}},
{"data":{"name":"sig"},"transform":[{"filter":"datum.panel === 'G'"}],"mark":{"type":"rule","strokeWidth":7,"color":"#000000","yOffset":-13,"y2Offset":13},
"encoding":{"x":{"field":"to","type":"quantitative","scale":{"domain":[0,4],"range":[2886,3631]},"axis":null},"y":{"field":"y","type":"quantitative","scale":{"domain":[0,0.8],"range":[1403,906],"nice":false}},"y2":{"field":"y"}}},
{"data":{"name":"sig"},"transform":[{"filter":"datum.panel === 'G'"}],"mark":{"type":"text","font":"Liberation Sans","fontWeight":"bold","fontSize":88,"align":"center","baseline":"alphabetic","dy":18,"color":"#000000"},
"encoding":{"x":{"field":"sx","type":"quantitative","scale":{"domain":[0,4],"range":[2886,3631]},"axis":null},"y":{"field":"sy","type":"quantitative","scale":{"domain":[0,0.8],"range":[1403,906],"nice":false}},"text":{"field":"label"}}},
{"data":{"name":"panels"},"transform":[{"filter":"datum.panel === 'G'"}],"mark":{"type":"text","font":"Open Sans","fontStyle":"italic","fontWeight":"bold","fontSize":76,"align":"center","baseline":"middle","color":"#000000"},
"encoding":{"x":{"datum":1.82,"type":"quantitative","scale":{"domain":[0,4],"range":[2886,3631]},"axis":null},"y":{"datum":0.972,"type":"quantitative","scale":{"domain":[0,0.8],"range":[1403,906],"nice":false}},"text":{"field":"title"}}},
{"data":{"name":"panels"},"transform":[{"filter":"datum.panel === 'G'"}],"mark":{"type":"text","font":"Open Sans","fontSize":76,"align":"center","baseline":"middle","color":"#000000"},
"encoding":{"x":{"datum":-1.348,"type":"quantitative","scale":{"domain":[0,4],"range":[2886,3631]},"axis":null},"y":{"datum":0.966,"type":"quantitative","scale":{"domain":[0,0.8],"range":[1403,906],"nice":false}},"text":{"field":"letter"}}}
]}
],
"resolve":{"scale":{"x":"independent"}}
},
{
"layer":[
{"data":{"name":"bars"},"transform":[{"filter":"datum.panel === 'H'"}],
"encoding":{"x":{"field":"group","type":"nominal","sort":null,"scale":{"domain":["Nod2+/+ NOD NCH","Nod2+/+ NOD CH","Nod2-/- NOD NCH","Nod2-/- NOD CH"],"range":[2908,3666],"paddingInner":0.32,"paddingOuter":0.17},"axis":{"orient":"bottom","offset":-532,"ticks":false,"labels":false,"title":null,"domainWidth":10,"domainColor":"#000000","domainCap":"square","grid":false,"zindex":1}}},
"layer":[
{"mark":{"type":"bar","strokeWidth":7},"encoding":{"y":{"field":"mean","type":"quantitative","scale":{"domain":[0,1.5],"range":[2172,1667],"nice":false},"axis":{"orient":"left","offset":-2908,"values":[0,0.5,1,1.5],"format":".1f","domainWidth":10,"domainColor":"#000000","domainCap":"square","tickSize":18,"tickWidth":6,"tickColor":"#000000","labelFont":"Liberation Sans","labelFontWeight":"bold","labelFontSize":62,"labelColor":"#000000","labelPadding":1,"labelOverlap":false,"labelFlush":false,"title":["Fold change over","control"],"titleFont":"Liberation Sans","titleFontWeight":"bold","titleFontSize":66,"titleColor":"#000000","titleAngle":-90,"titleAlign":"center","titleBaseline":"middle","titleLineHeight":96,"titleX":-246,"titleY":1908,"grid":false,"zindex":1}},"y2":{"datum":0},
"fill":{"field":"group","type":"nominal","scale":{"domain":["Nod2+/+ NOD NCH","Nod2+/+ NOD CH","Nod2-/- NOD NCH","Nod2-/- NOD CH"],"range":["#000000","#4f4f4f","#8f8f92","#ffffff"]},"legend":null},
"stroke":{"field":"group","type":"nominal","scale":{"domain":["Nod2+/+ NOD NCH","Nod2+/+ NOD CH","Nod2-/- NOD NCH","Nod2-/- NOD CH"],"range":["#000000","#4f4f4f","#8f8f92","#000000"]},"legend":null}}},
{"mark":{"type":"rule","strokeWidth":7},"encoding":{"y":{"field":"mean","type":"quantitative","scale":{"domain":[0,1.5],"range":[2172,1667],"nice":false}},"y2":{"field":"upper"},
"stroke":{"field":"group","type":"nominal","scale":{"domain":["Nod2+/+ NOD NCH","Nod2+/+ NOD CH","Nod2-/- NOD NCH","Nod2-/- NOD CH"],"range":["#000000","#4f4f4f","#8f8f92","#000000"]},"legend":null}}},
{"mark":{"type":"tick","thickness":8,"size":64,"opacity":1},"encoding":{"y":{"field":"upper","type":"quantitative","scale":{"domain":[0,1.5],"range":[2172,1667],"nice":false}},
"color":{"field":"group","type":"nominal","scale":{"domain":["Nod2+/+ NOD NCH","Nod2+/+ NOD CH","Nod2-/- NOD NCH","Nod2-/- NOD CH"],"range":["#000000","#4f4f4f","#8f8f92","#000000"]},"legend":null}}}
]},
{"layer":[
{"data":{"name":"sig"},"transform":[{"filter":"datum.panel === 'H'"}],"mark":{"type":"rule","strokeWidth":7,"color":"#000000"},
"encoding":{"x":{"field":"from","type":"quantitative","scale":{"domain":[0,4],"range":[2908,3666]},"axis":null},"x2":{"field":"to"},"y":{"field":"y","type":"quantitative","scale":{"domain":[0,1.5],"range":[2172,1667],"nice":false}}}},
{"data":{"name":"sig"},"transform":[{"filter":"datum.panel === 'H'"}],"mark":{"type":"rule","strokeWidth":7,"color":"#000000","yOffset":-13,"y2Offset":13},
"encoding":{"x":{"field":"from","type":"quantitative","scale":{"domain":[0,4],"range":[2908,3666]},"axis":null},"y":{"field":"y","type":"quantitative","scale":{"domain":[0,1.5],"range":[2172,1667],"nice":false}},"y2":{"field":"y"}}},
{"data":{"name":"sig"},"transform":[{"filter":"datum.panel === 'H'"}],"mark":{"type":"rule","strokeWidth":7,"color":"#000000","yOffset":-13,"y2Offset":13},
"encoding":{"x":{"field":"to","type":"quantitative","scale":{"domain":[0,4],"range":[2908,3666]},"axis":null},"y":{"field":"y","type":"quantitative","scale":{"domain":[0,1.5],"range":[2172,1667],"nice":false}},"y2":{"field":"y"}}},
{"data":{"name":"sig"},"transform":[{"filter":"datum.panel === 'H'"}],"mark":{"type":"text","font":"Liberation Sans","fontWeight":"bold","fontSize":88,"align":"center","baseline":"alphabetic","dy":18,"color":"#000000"},
"encoding":{"x":{"field":"sx","type":"quantitative","scale":{"domain":[0,4],"range":[2908,3666]},"axis":null},"y":{"field":"sy","type":"quantitative","scale":{"domain":[0,1.5],"range":[2172,1667],"nice":false}},"text":{"field":"label"}}},
{"data":{"name":"panels"},"transform":[{"filter":"datum.panel === 'H'"}],"mark":{"type":"text","font":"Open Sans","fontStyle":"italic","fontWeight":"bold","fontSize":76,"align":"center","baseline":"middle","color":"#000000"},
"encoding":{"x":{"datum":1.71,"type":"quantitative","scale":{"domain":[0,4],"range":[2908,3666]},"axis":null},"y":{"datum":1.839,"type":"quantitative","scale":{"domain":[0,1.5],"range":[2172,1667],"nice":false}},"text":{"field":"title"}}},
{"data":{"name":"panels"},"transform":[{"filter":"datum.panel === 'H'"}],"mark":{"type":"text","font":"Open Sans","fontSize":76,"align":"center","baseline":"middle","color":"#000000"},
"encoding":{"x":{"datum":-1.478,"type":"quantitative","scale":{"domain":[0,4],"range":[2908,3666]},"axis":null},"y":{"datum":1.839,"type":"quantitative","scale":{"domain":[0,1.5],"range":[2172,1667],"nice":false}},"text":{"field":"letter"}}}
]}
],
"resolve":{"scale":{"x":"independent"}}
},
{
"data":{"name":"legend"},
"encoding":{"y":{"field":"group","type":"nominal","sort":null,"scale":{"domain":["Nod2+/+ NOD NCH","Nod2+/+ NOD CH","Nod2-/- NOD NCH","Nod2-/- NOD CH"],"range":[2307,2692],"paddingInner":0,"paddingOuter":0},"axis":null}},
"layer":[
{"mark":{"type":"rect"},"encoding":{"x":{"datum":0,"type":"quantitative","scale":{"domain":[0,1],"range":[1956,2049]},"axis":null},"x2":{"datum":1},
"fill":{"field":"group","type":"nominal","scale":{"domain":["Nod2+/+ NOD NCH","Nod2+/+ NOD CH","Nod2-/- NOD NCH","Nod2-/- NOD CH"],"range":["#000000","#4f4f4f","#8f8f92","#ffffff"]},"legend":null}}},
{"transform":[{"filter":"datum.group === 'Nod2-/- NOD CH'"}],"mark":{"type":"rect","fill":"#ffffff","stroke":"#000000","strokeWidth":12},"encoding":{"x":{"datum":0.065,"type":"quantitative","scale":{"domain":[0,1],"range":[1956,2049]},"axis":null},"x2":{"datum":0.935}}},
{"mark":{"type":"text","font":"Liberation Sans","fontStyle":"italic","fontWeight":"bold","fontSize":90,"align":"right","baseline":"middle","color":"#000000"},
"encoding":{"x":{"datum":3.925,"type":"quantitative","scale":{"domain":[0,1],"range":[1956,2049]},"axis":null},"text":{"field":"gene"}}},
{"mark":{"type":"text","font":"Liberation Sans","fontWeight":"bold","fontSize":58,"align":"left","baseline":"middle","dy":-22,"color":"#000000"},
"encoding":{"x":{"datum":3.96,"type":"quantitative","scale":{"domain":[0,1],"range":[1956,2049]},"axis":null},"text":{"field":"sup"}}},
{"mark":{"type":"text","font":"Liberation Sans","fontWeight":"bold","fontSize":90,"align":"left","baseline":"middle","color":"#000000"},
"encoding":{"x":{"datum":5.204,"type":"quantitative","scale":{"domain":[0,1],"range":[1956,2049]},"axis":null},"text":{"field":"rest"}}}
]
}
],
"resolve":{"scale":{"x":"independent","y":"independent"}}
}
